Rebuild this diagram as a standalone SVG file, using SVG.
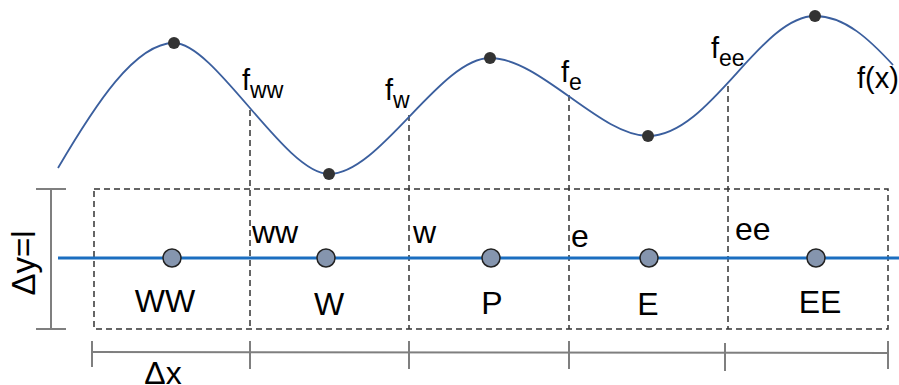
<svg xmlns="http://www.w3.org/2000/svg" width="899" height="385" viewBox="0 0 899 385">
<style>
.dash{fill:none;stroke:#333;stroke-width:1.5;stroke-dasharray:6 4}
.dim{fill:none;stroke:#7f7f7f;stroke-width:2}
.t{font-family:"Liberation Sans",Arial,sans-serif;fill:#000}
.big{font-size:32px}
.f{font-size:29px}
.sub{font-size:23px}
.node{fill:#8595ae;stroke:#222;stroke-width:1.5}
.dot{fill:#333}
</style>
<rect width="899" height="385" fill="#fff"/>
<g id="grid">
<rect class="dash" x="94" y="189" width="794" height="140"/>
<line class="dash" x1="250" y1="110" x2="250" y2="329"/>
<line class="dash" x1="409" y1="115" x2="409" y2="329"/>
<line class="dash" x1="569" y1="95" x2="569" y2="329"/>
<line class="dash" x1="728" y1="86" x2="728" y2="329"/>
</g>
<g id="connectors">
<line x1="58" y1="258" x2="899" y2="258" stroke="#1b6ec0" stroke-width="3"/>
<path d="M58,168 C95,105 135,43 174,43 C215,43 285,174 329,174 C380,174 440,58 490,58 C540,58 600,136 648,136 C710,136 760,16 815,16 C845,16 870,40 893,65" fill="none" stroke="#3b5f9e" stroke-width="1.8"/>
</g>
<g id="curve-points">
<circle class="dot" cx="174" cy="43" r="6"/>
<circle class="dot" cx="329" cy="174" r="6"/>
<circle class="dot" cx="490" cy="58" r="6"/>
<circle class="dot" cx="648" cy="136" r="6"/>
<circle class="dot" cx="815" cy="16" r="6"/>
</g>
<g id="node-WW"><circle class="node" cx="172" cy="258" r="9"/><text class="t big" x="165" y="312" text-anchor="middle" font-size="34">WW</text></g>
<g id="node-W"><circle class="node" cx="326" cy="258" r="9"/><text class="t big" x="329" y="315" text-anchor="middle">W</text></g>
<g id="node-P"><circle class="node" cx="491" cy="258" r="9"/><text class="t big" x="492" y="314" text-anchor="middle">P</text></g>
<g id="node-E"><circle class="node" cx="649" cy="258" r="9"/><text class="t big" x="648" y="315" text-anchor="middle">E</text></g>
<g id="node-EE"><circle class="node" cx="816" cy="258" r="9"/><text class="t big" x="820" y="313" text-anchor="middle">EE</text></g>
<g id="face-labels">
<text class="t big" x="252" y="243">ww</text>
<text class="t big" x="413" y="243">w</text>
<text class="t big" x="571" y="247">e</text>
<text class="t big" x="735" y="240">ee</text>
</g>
<g id="f-labels">
<text class="t f" x="242" y="90">f<tspan class="sub" dy="8">ww</tspan></text>
<text class="t f" x="385" y="100">f<tspan class="sub" dy="8">w</tspan></text>
<text class="t f" x="561" y="82">f<tspan class="sub" dy="8">e</tspan></text>
<text class="t f" x="711" y="58">f<tspan class="sub" dy="8">ee</tspan></text>
<text class="t f" x="857" y="88" font-size="30">f(x)</text>
</g>
<g id="dimensions">
<line class="dim" x1="51" y1="189" x2="51" y2="329"/>
<line class="dim" x1="36" y1="189" x2="66" y2="189"/>
<line class="dim" x1="36" y1="329" x2="66" y2="329"/>
<text class="t" font-size="33" transform="translate(35,263) rotate(-90)" text-anchor="middle">Δy=l</text>
<line class="dim" x1="92" y1="352" x2="888" y2="353"/>
<line class="dim" x1="92" y1="341" x2="92" y2="367"/>
<line class="dim" x1="250" y1="341" x2="250" y2="369"/>
<line class="dim" x1="409" y1="341" x2="409" y2="369"/>
<line class="dim" x1="569" y1="341" x2="569" y2="369"/>
<line class="dim" x1="725" y1="343" x2="725" y2="371"/>
<line class="dim" x1="888" y1="341" x2="888" y2="369"/>
<text class="t" font-size="32" x="163" y="384" text-anchor="middle">Δx</text>
</g>
</svg>
